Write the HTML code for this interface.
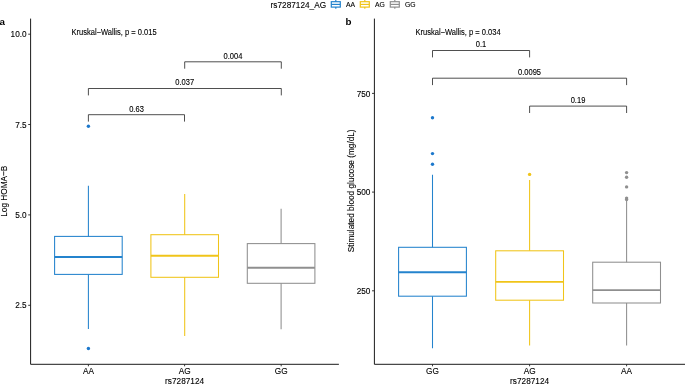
<!DOCTYPE html>
<html><head><meta charset="utf-8">
<style>
html,body{margin:0;padding:0;background:#fff;}
body{width:685px;height:384px;overflow:hidden;font-family:"Liberation Sans",sans-serif;}
svg{display:block;will-change:transform;}
text{font-family:"Liberation Sans",sans-serif;fill:#000;stroke:#000;stroke-width:0.12px;}
.t{font-size:9.3px;}
.s{font-size:8.6px;}
.l{font-size:7.6px;}
.b{font-size:9.8px;font-weight:bold;fill:#000;stroke:none;}
.ax{stroke:#000;stroke-width:0.9;fill:none;}
.tk{stroke:#222;stroke-width:0.9;fill:none;}
.br{stroke:#222;stroke-width:0.8;fill:none;}
.c1{stroke:#2483cd;fill:none;stroke-width:1.05;}
.c2{stroke:#f0c419;fill:none;stroke-width:1.05;}
.c3{stroke:#8f8f8f;fill:none;stroke-width:1.05;}
.m{stroke-width:1.9;}
.d1{fill:#1c78cc;}.d2{fill:#f0c419;}.d3{fill:#8f8f8f;}
</style></head><body>
<svg width="685" height="384" viewBox="0 0 685 384">
<rect width="685" height="384" fill="#fff"/>
<g id="legend">
<text class="t" text-anchor="start" transform="translate(270.6,8.0) scale(0.888,1)">rs7287124_AG</text>
<g class="c1" style="stroke-width:1.2"><rect x="331.3" y="1.7" width="9" height="5.4"/><line x1="331.3" y1="4.4" x2="340.3" y2="4.4"/><line x1="335.8" y1="0" x2="335.8" y2="1.7"/><line x1="335.8" y1="7.1" x2="335.8" y2="8.8"/></g>
<text class="l" text-anchor="start" transform="translate(346.0,6.8) scale(0.895,1)">AA</text>
<g class="c2" style="stroke-width:1.2"><rect x="360.3" y="1.7" width="9" height="5.4"/><line x1="360.3" y1="4.4" x2="369.3" y2="4.4"/><line x1="364.8" y1="0" x2="364.8" y2="1.7"/><line x1="364.8" y1="7.1" x2="364.8" y2="8.8"/></g>
<text class="l" text-anchor="start" transform="translate(375.0,6.8) scale(0.895,1)">AG</text>
<g class="c3" style="stroke-width:1.2"><rect x="390.3" y="1.7" width="9" height="5.4"/><line x1="390.3" y1="4.4" x2="399.3" y2="4.4"/><line x1="394.8" y1="0" x2="394.8" y2="1.7"/><line x1="394.8" y1="7.1" x2="394.8" y2="8.8"/></g>
<text class="l" text-anchor="start" transform="translate(405.0,6.8) scale(0.895,1)">GG</text>
</g>
<g id="pa">
<text class="b" text-anchor="start" transform="translate(-0.6,25.0) scale(1.0,1)">a</text>
<path class="ax" d="M30.6 18.6V364.3H338.9"/>
<path class="tk" d="M28.200000000000003 34.2H30.6M28.200000000000003 124.5H30.6M28.200000000000003 214.9H30.6M28.200000000000003 305.3H30.6"/>
<path class="tk" d="M88.4 364.3V366.3M184.6 364.3V366.3M281.2 364.3V366.3"/>
<text class="t" text-anchor="end" transform="translate(26.6,37.300000000000004) scale(0.888,1)">10.0</text>
<text class="t" text-anchor="end" transform="translate(26.6,127.6) scale(0.888,1)">7.5</text>
<text class="t" text-anchor="end" transform="translate(26.6,218.0) scale(0.888,1)">5.0</text>
<text class="t" text-anchor="end" transform="translate(26.6,308.40000000000003) scale(0.888,1)">2.5</text>
<text class="t" text-anchor="middle" transform="translate(88.4,373.6) scale(0.888,1)">AA</text>
<text class="t" text-anchor="middle" transform="translate(184.6,373.6) scale(0.888,1)">AG</text>
<text class="t" text-anchor="middle" transform="translate(281.2,373.6) scale(0.888,1)">GG</text>
<text class="t" text-anchor="middle" transform="translate(184.6,384.2) scale(0.888,1)">rs7287124</text>
<text class="t" text-anchor="middle" transform="translate(7.2,191.2) rotate(-90) scale(0.888,1)">Log HOMA−B</text>
<text class="s" text-anchor="start" transform="translate(71.5,34.6) scale(0.876,1)">Kruskal−Wallis, p = 0.015</text>
<path class="br" d="M184.7 68.7V61.8H281.3V68.7"/>
<text class="s" text-anchor="middle" transform="translate(233.0,58.8) scale(0.876,1)">0.004</text>
<path class="br" d="M88.4 95.4V88.5H281.3V95.4"/>
<text class="s" text-anchor="middle" transform="translate(184.7,85.0) scale(0.876,1)">0.037</text>
<path class="br" d="M88.4 121.60000000000001V114.7H184.5V121.60000000000001"/>
<text class="s" text-anchor="middle" transform="translate(136.5,111.7) scale(0.876,1)">0.63</text>
<g class="c1"><path d="M88.4 185.7V236.4M88.4 274.4V329.1"/><rect x="54.60000000000001" y="236.4" width="67.6" height="37.99999999999997"/><line class="m" x1="54.60000000000001" y1="257.0" x2="122.2" y2="257.0"/></g>
<circle class="d1" cx="88.4" cy="126.3" r="1.7"/><circle class="d1" cx="88.4" cy="348.5" r="1.7"/>
<g class="c2"><path d="M184.7 193.9V234.7M184.7 277.3V335.9"/><rect x="150.89999999999998" y="234.7" width="67.6" height="42.60000000000002"/><line class="m" x1="150.89999999999998" y1="255.8" x2="218.5" y2="255.8"/></g>
<g class="c3"><path d="M281.1 208.7V243.6M281.1 283.3V329.3"/><rect x="247.3" y="243.6" width="67.6" height="39.70000000000002"/><line class="m" x1="247.3" y1="267.7" x2="314.90000000000003" y2="267.7"/></g>
</g>
<g id="pb">
<text class="b" text-anchor="start" transform="translate(345.6,25.2) scale(1.0,1)">b</text>
<path class="ax" d="M374.4 18.6V364.3H685"/>
<path class="tk" d="M372.0 93.4H374.4M372.0 192.1H374.4M372.0 290.8H374.4"/>
<path class="tk" d="M432.5 364.3V366.3M529.6 364.3V366.3M626.6 364.3V366.3"/>
<text class="t" text-anchor="end" transform="translate(370.4,96.5) scale(0.888,1)">750</text>
<text class="t" text-anchor="end" transform="translate(370.4,195.2) scale(0.888,1)">500</text>
<text class="t" text-anchor="end" transform="translate(370.4,293.90000000000003) scale(0.888,1)">250</text>
<text class="t" text-anchor="middle" transform="translate(432.5,373.6) scale(0.888,1)">GG</text>
<text class="t" text-anchor="middle" transform="translate(529.6,373.6) scale(0.888,1)">AG</text>
<text class="t" text-anchor="middle" transform="translate(626.6,373.6) scale(0.888,1)">AA</text>
<text class="t" text-anchor="middle" transform="translate(529.6,384.2) scale(0.888,1)">rs7287124</text>
<text class="t" text-anchor="middle" transform="translate(353.6,190.8) rotate(-90) scale(0.888,1)">Stimulated blood glucose (mg/dL)</text>
<text class="s" text-anchor="start" transform="translate(415.5,34.6) scale(0.876,1)">Kruskal−Wallis, p = 0.034</text>
<path class="br" d="M432.5 57.4V50.5H529.6V57.4"/>
<text class="s" text-anchor="middle" transform="translate(481,47.1) scale(0.876,1)">0.1</text>
<path class="br" d="M432.5 85.10000000000001V78.2H626.6V85.10000000000001"/>
<text class="s" text-anchor="middle" transform="translate(529.5,75.0) scale(0.876,1)">0.0095</text>
<path class="br" d="M529.6 113.0V106.1H626.6V113.0"/>
<text class="s" text-anchor="middle" transform="translate(578,103.0) scale(0.876,1)">0.19</text>
<g class="c1"><path d="M432.5 174.8V247.3M432.5 296.2V348.2"/><rect x="398.6" y="247.3" width="67.8" height="48.89999999999998"/><line class="m" x1="398.6" y1="272.3" x2="466.4" y2="272.3"/></g>
<circle class="d1" cx="432.5" cy="117.7" r="1.7"/><circle class="d1" cx="432.5" cy="153.6" r="1.7"/><circle class="d1" cx="432.5" cy="164.2" r="1.7"/>
<g class="c2"><path d="M529.6 180.1V250.8M529.6 300.2V345.6"/><rect x="495.70000000000005" y="250.8" width="67.8" height="49.39999999999998"/><line class="m" x1="495.70000000000005" y1="281.9" x2="563.5" y2="281.9"/></g>
<circle class="d2" cx="529.6" cy="174.4" r="1.7"/>
<g class="c3"><path d="M626.6 199.5V262.2M626.6 303.0V345.6"/><rect x="592.7" y="262.2" width="67.8" height="40.80000000000001"/><line class="m" x1="592.7" y1="290.1" x2="660.5" y2="290.1"/></g>
<circle class="d3" cx="626.6" cy="172.6" r="1.7"/><circle class="d3" cx="626.6" cy="177.3" r="1.7"/><circle class="d3" cx="626.6" cy="186.9" r="1.7"/><circle class="d3" cx="626.6" cy="198.1" r="1.7"/><circle class="d3" cx="626.6" cy="199.6" r="1.7"/>
</g>
</svg>
</body></html>
